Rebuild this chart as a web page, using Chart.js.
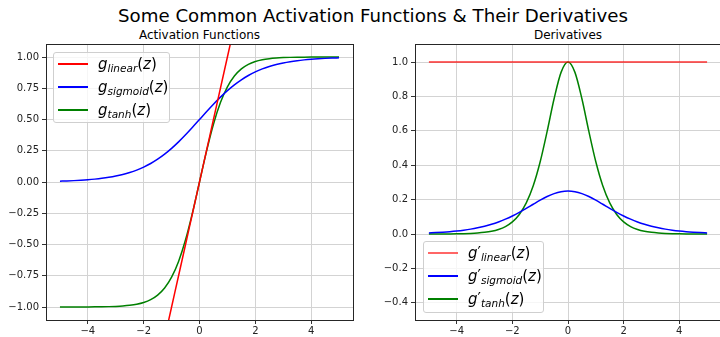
<!DOCTYPE html>
<html>
<head>
<meta charset="utf-8">
<script src="https://cdn.jsdelivr.net/npm/chart.js@4"></script>
<style>
  html, body { margin: 0; padding: 0; background: #fff; overflow: hidden; }
  body { width: 720px; height: 337px; position: relative; font-family: 'DejaVu Sans', sans-serif; }
  #suptitle { position: absolute; left: 0; width: 746px; top: 5px; text-align: center; font-size: 18.2px; color: #000; }
  .subtitle { position: absolute; top: 27px; text-align: center; font-size: 12px; color: #000; line-height: 16px; }
  .pane { position: absolute; top: 0; }
  .legend { position: absolute; border: 1px solid #cfcfcf; border-radius: 3px; background: rgba(255,255,255,0.8); box-sizing: border-box; }
  .legend .row { position: relative; height: 23px; }
  .legend .swatch { position: absolute; width: 30px; }
  .legend .txt { position: absolute; top: 1px; font-size: 15px; white-space: nowrap; color: #000; line-height: 20px; }
  .legend .txt sub { font-size: 10.5px; vertical-align: -3px; }
</style>
</head>
<body>
<div id="suptitle">Some Common Activation Functions &amp; Their Derivatives</div>
<div class="subtitle" style="left:46px;width:307px">Activation Functions</div>
<div class="subtitle" style="left:415px;width:306px">Derivatives</div>
<div class="pane" style="left:0"><canvas id="actChart" width="360" height="337"></canvas></div>
<div class="pane" style="left:360px"><canvas id="derivChart" width="365" height="337"></canvas></div>
<div id="legendLeft" class="legend" style="left:53px;top:52px;width:117px;height:71px"></div>
<div id="legendRight" class="legend" style="left:423px;top:241px;width:121px;height:72px"></div>
<script>
// sampled z values
const zValues = [-5, -4.75, -4.5, -4.25, -4, -3.75, -3.5, -3.25, -3, -2.75, -2.5, -2.25, -2, -1.75, -1.5, -1.25, -1, -0.75, -0.5, -0.25,
  0, 0.25, 0.5, 0.75, 1, 1.25, 1.5, 1.75, 2, 2.25, 2.5, 2.75, 3, 3.25, 3.5, 3.75, 4, 4.25, 4.5, 4.75, 5];

// activation functions
const linearVals = [-5, -4.75, -4.5, -4.25, -4, -3.75, -3.5, -3.25, -3, -2.75, -2.5, -2.25, -2, -1.75, -1.5, -1.25, -1, -0.75, -0.5, -0.25,
  0, 0.25, 0.5, 0.75, 1, 1.25, 1.5, 1.75, 2, 2.25, 2.5, 2.75, 3, 3.25, 3.5, 3.75, 4, 4.25, 4.5, 4.75, 5];
const sigmoidVals = [0.0067, 0.0086, 0.0110, 0.0141, 0.0180, 0.0230, 0.0293, 0.0373, 0.0474, 0.0601, 0.0759, 0.0954, 0.1192, 0.1480, 0.1824, 0.2227, 0.2689, 0.3208, 0.3775, 0.4378,
  0.5, 0.5622, 0.6225, 0.6792, 0.7311, 0.7773, 0.8176, 0.8520, 0.8808, 0.9046, 0.9241, 0.9399, 0.9526, 0.9627, 0.9707, 0.9770, 0.9820, 0.9859, 0.9890, 0.9914, 0.9933];
const tanhVals = [-0.9999, -0.9999, -0.9998, -0.9996, -0.9993, -0.9989, -0.9982, -0.9970, -0.9951, -0.9919, -0.9866, -0.9780, -0.9640, -0.9414, -0.9051, -0.8483, -0.7616, -0.6351, -0.4621, -0.2449,
  0, 0.2449, 0.4621, 0.6351, 0.7616, 0.8483, 0.9051, 0.9414, 0.9640, 0.9780, 0.9866, 0.9919, 0.9951, 0.9970, 0.9982, 0.9989, 0.9993, 0.9996, 0.9998, 0.9999, 0.9999];

// derivatives
const dLinearVals = [1, 1, 1, 1, 1, 1, 1, 1, 1, 1, 1, 1, 1, 1, 1, 1, 1, 1, 1, 1,
  1, 1, 1, 1, 1, 1, 1, 1, 1, 1, 1, 1, 1, 1, 1, 1, 1, 1, 1, 1, 1];
const dSigmoidVals = [0.0066, 0.0085, 0.0109, 0.0139, 0.0177, 0.0225, 0.0284, 0.0359, 0.0452, 0.0565, 0.0701, 0.0863, 0.1050, 0.1261, 0.1491, 0.1731, 0.1966, 0.2179, 0.2350, 0.2461,
  0.25, 0.2461, 0.2350, 0.2179, 0.1966, 0.1731, 0.1491, 0.1261, 0.1050, 0.0863, 0.0701, 0.0565, 0.0452, 0.0359, 0.0284, 0.0225, 0.0177, 0.0139, 0.0109, 0.0085, 0.0066];
const dTanhVals = [0.0002, 0.0003, 0.0005, 0.0008, 0.0013, 0.0022, 0.0036, 0.0060, 0.0099, 0.0162, 0.0266, 0.0435, 0.0707, 0.1138, 0.1807, 0.2804, 0.4200, 0.5966, 0.7864, 0.9400,
  1, 0.9400, 0.7864, 0.5966, 0.4200, 0.2804, 0.1807, 0.1138, 0.0707, 0.0435, 0.0266, 0.0162, 0.0099, 0.0060, 0.0036, 0.0022, 0.0013, 0.0008, 0.0005, 0.0003, 0.0002];

const fnNames = ['linear', 'sigmoid', 'tanh'];
const xTicks = [-4, -2, 0, 2, 4];
const actYTicks = [-1, -0.75, -0.5, -0.25, 0, 0.25, 0.5, 0.75, 1];
const derivYTicks = [-0.4, -0.2, 0, 0.2, 0.4, 0.6, 0.8, 1.0];

Chart.defaults.font.family = "'DejaVu Sans', sans-serif";
Chart.defaults.color = '#222';

const minus = s => s.replace('-', '\u2212');

// draws the four spines like matplotlib
const framePlugin = {
    id: 'frame',
    afterDraw(chart) {
        const {ctx, chartArea: a} = chart;
        ctx.save();
        ctx.strokeStyle = '#262626';
        ctx.lineWidth = 1;
        ctx.strokeRect(Math.round(a.left) + 0.5, Math.round(a.top) + 0.5, Math.round(a.right - a.left), Math.round(a.bottom - a.top));
        ctx.restore();
    }
};

function makeDataset(label, vals, color, width) {
    return {
        label: label,
        data: zValues.map((z, i) => ({x: z, y: vals[i]})),
        borderColor: color,
        backgroundColor: color,
        borderWidth: width,
        pointRadius: 0,
        cubicInterpolationMode: 'monotone',
        fill: false
    };
}

function makeOptions(yMin, yMax, yTicks, decimals, yWidth, padRight) {
    return {
        responsive: false,
        animation: false,
        layout: {padding: {left: 0, right: padRight, top: 44, bottom: 0}},
        plugins: {
            legend: {display: false},
            tooltip: {enabled: false}
        },
        scales: {
            x: {
                type: 'linear',
                min: -5.5,
                max: 5.5,
                afterBuildTicks: s => { s.ticks = xTicks.map(v => ({value: v})); },
                afterFit: s => { s.height = 17; },
                grid: {color: '#d3d3d3', tickColor: '#333', tickLength: 4},
                border: {display: false},
                ticks: {padding: 1, font: {size: 10}, maxRotation: 0, callback: v => minus(String(v))}
            },
            y: {
                type: 'linear',
                min: yMin,
                max: yMax,
                afterBuildTicks: s => { s.ticks = yTicks.map(v => ({value: v})); },
                afterFit: s => { s.width = yWidth; },
                grid: {color: '#d3d3d3', tickColor: '#333', tickLength: 4},
                border: {display: false},
                ticks: {padding: 3, font: {size: 10}, callback: v => minus(v.toFixed(decimals))}
            }
        }
    };
}

const actChart = new Chart(document.getElementById('actChart').getContext('2d'), {
    type: 'line',
    data: {
        datasets: [
            makeDataset(fnNames[0], linearVals, '#ff0000', 1.5),
            makeDataset(fnNames[1], sigmoidVals, '#0000ff', 1.5),
            makeDataset(fnNames[2], tanhVals, '#008000', 1.5)
        ]
    },
    options: makeOptions(-1.104, 1.104, actYTicks, 2, 46, 7),
    plugins: [framePlugin]
});

const derivChart = new Chart(document.getElementById('derivChart').getContext('2d'), {
    type: 'line',
    data: {
        datasets: [
            makeDataset(fnNames[0], dLinearVals, 'rgba(255,0,0,0.6)', 2),
            makeDataset(fnNames[1], dSigmoidVals, '#0000ff', 1.5),
            makeDataset(fnNames[2], dTanhVals, '#008000', 1.5)
        ]
    },
    options: makeOptions(-0.5, 1.105, derivYTicks, 1, 55, 4),
    plugins: [framePlugin]
});

// html legends so the subscripts stay real text
function buildLegend(el, chart, prime) {
    chart.data.datasets.forEach(ds => {
        const row = document.createElement('div');
        row.className = 'row';
        const sw = document.createElement('div');
        sw.className = 'swatch';
        sw.style.left = '4px';
        sw.style.top = '10px';
        sw.style.height = '1.5px';
        sw.style.background = ds.borderColor;
        const txt = document.createElement('div');
        txt.className = 'txt';
        txt.style.left = '44px';
        txt.innerHTML = '<i>g</i>' + (prime ? '\u2032' : '') + '<sub><i>' + ds.label + '</i></sub>(<i>z</i>)';
        row.appendChild(sw);
        row.appendChild(txt);
        el.appendChild(row);
    });
}
buildLegend(document.getElementById('legendLeft'), actChart, false);
buildLegend(document.getElementById('legendRight'), derivChart, true);
</script>
</body>
</html>
